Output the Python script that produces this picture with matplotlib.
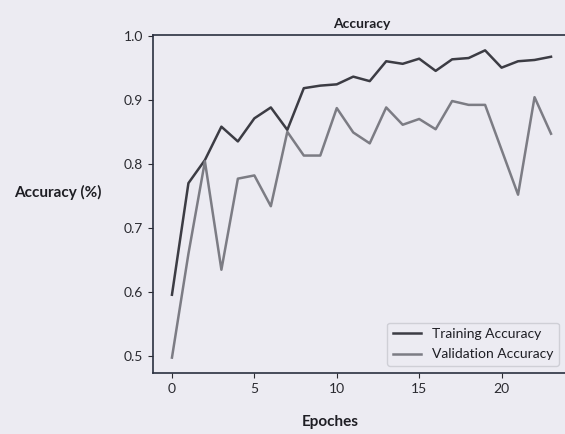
import matplotlib
matplotlib.use("Agg")
import matplotlib.pyplot as plt

# values
epochs = list(range(24))
train_acc = [0.596, 0.770, 0.806, 0.858, 0.835, 0.871, 0.888, 0.853,
             0.918, 0.922, 0.924, 0.936, 0.929, 0.960, 0.956, 0.964,
             0.945, 0.963, 0.965, 0.977, 0.950, 0.960, 0.962, 0.967]
val_acc = [0.498, 0.660, 0.804, 0.635, 0.777, 0.782, 0.734, 0.850,
           0.813, 0.813, 0.887, 0.849, 0.832, 0.888, 0.861, 0.870,
           0.854, 0.898, 0.892, 0.892, 0.822, 0.752, 0.904, 0.847]
x_ticks = [0, 5, 10, 15, 20]
y_ticks = [0.5, 0.6, 0.7, 0.8, 0.9, 1.0]

bg = "#ecebf2"
plt.rcParams["font.family"] = ["Lato", "DejaVu Sans"]

fig = plt.figure(figsize=(5.65, 4.34), dpi=100, facecolor=bg)
ax = fig.add_axes([0.2708, 0.1406, 0.738, 0.7788], facecolor=bg)

ax.plot(epochs, train_acc, color="#3c3c44", lw=1.8, label="Training Accuracy")
ax.plot(epochs, val_acc, color="#7c7c84", lw=1.8, label="Validation Accuracy")

ax.set_xticks(x_ticks)
ax.set_yticks(y_ticks)
ax.tick_params(labelsize=10, colors="#2a2a30", length=3.5)
for s in ax.spines.values():
    s.set_color("#2a3040")
    s.set_linewidth(1.2)

ax.set_title("Accuracy", fontsize=10, fontweight="bold", color="#1e1e24", pad=5)
ax.set_ylabel("Accuracy (%)", rotation=0, fontsize=11, fontweight="bold",
              color="#1e1e24", ha="center", va="center")
ax.yaxis.set_label_coords(-0.228, 0.533)
ax.set_xlabel("Epoches", fontsize=11, fontweight="bold", color="#1e1e24")
ax.xaxis.set_label_coords(0.424, -0.125)

leg = ax.legend(loc="lower right", fontsize=10, facecolor=bg, edgecolor="#c8c8d0",
                bbox_to_anchor=(0.99, 0.0), labelspacing=0.6)
for t in leg.get_texts():
    t.set_color("#1e1e24")

fig.savefig("out.png", dpi=100, facecolor=bg)
